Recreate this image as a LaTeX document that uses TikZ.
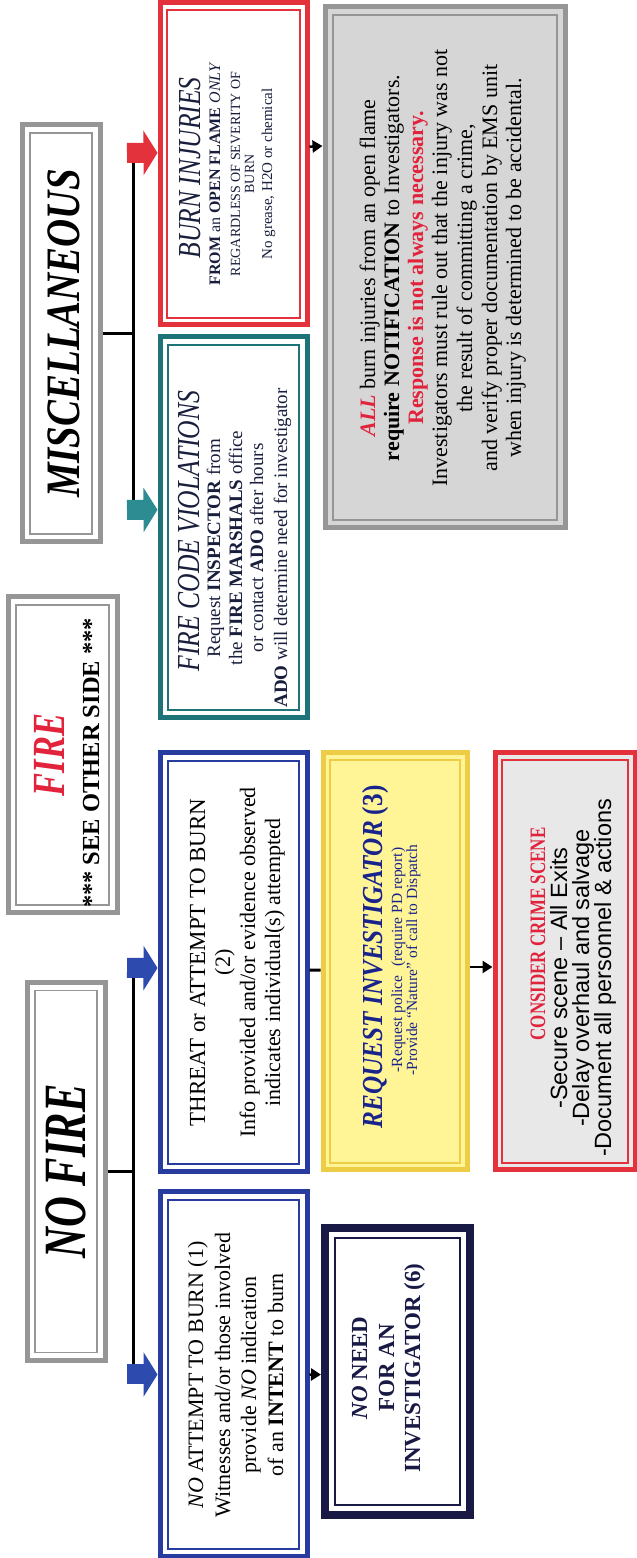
\documentclass[tikz,border=0pt]{standalone}
\usepackage{fontspec}
\setmainfont{Liberation Serif}
\newfontfamily\arialf{Liberation Sans}
\usepackage{graphicx}
\usetikzlibrary{arrows.meta,calc}
\definecolor{bblue}{RGB}{40,60,160}
\definecolor{arblue}{RGB}{45,75,175}
\definecolor{navyb}{RGB}{25,25,70}
\definecolor{navyt}{RGB}{25,35,140}
\definecolor{darkt}{RGB}{25,30,60}
\definecolor{tealb}{RGB}{30,115,120}
\definecolor{artea}{RGB}{45,140,145}
\definecolor{redb}{RGB}{228,50,60}
\definecolor{redt}{RGB}{225,35,60}
\definecolor{yelf}{RGB}{255,245,150}
\definecolor{yelb}{RGB}{238,205,70}
\definecolor{greyb}{RGB}{150,150,150}
\definecolor{greyf}{RGB}{214,214,214}
\definecolor{crimef}{RGB}{232,232,232}
\newcommand\fs[1]{\fontsize{#1}{#1}\selectfont}
\newcommand\sqz[2]{\scalebox{#1}[1]{#2}}
\tikzset{
  outerbox/.style={draw=#1, line width=5pt, inner sep=0pt},
  innerbox/.style={draw=#1, line width=1.5pt, inner sep=0pt},
  lbl/.style={inner sep=0pt, anchor=base},
  ttl/.style={inner sep=0pt, anchor=center},
  bus/.style={line width=3pt, draw=black},
  blockarrow/.style={draw=#1, line width=20pt, -{Triangle[length=14pt,width=44pt]}},
  smallarrow/.style={line width=2.5pt, draw=black, -{Triangle[length=10pt,width=12pt]}},
}
\newcommand\dbox[8]{%
  \node[outerbox=#6, fill=#7, minimum width=#4, minimum height=#5] (#1) at (#2,#3) {};
  \node[innerbox=#6, minimum width=#4-2*#8, minimum height=#5-2*#8] (#1in) at (#2,#3) {};
}
\begin{document}
\begin{tikzpicture}[x=1pt, y=1pt, rotate=90, transform shape]
\fill[white] (0,0) rectangle (1558,-637);
\useasboundingbox (0,0) rectangle (1558,-637);

% title boxes
\dbox{NF}{386.5}{-66}{378}{78}{greyb}{white}{8}
\dbox{FI}{803}{-62.5}{316}{109}{greyb}{white}{8}
\dbox{MI}{1224.5}{-61}{417}{78}{greyb}{white}{8}

% main boxes
\dbox{A}{183.5}{-233.5}{365}{147}{bblue}{white}{8}
\dbox{B}{595.5}{-233.5}{419}{147}{bblue}{white}{8}
\dbox{C}{1030.5}{-233.5}{381}{147}{tealb}{white}{8}
\dbox{D}{1394}{-233.5}{322}{147}{redb}{white}{7}
\node[draw=navyb, line width=8pt, fill=white, inner sep=0pt, minimum width=287, minimum height=145] (E) at (186.5,-397.5) {};
\node[innerbox=navyb, line width=2pt, minimum width=267, minimum height=125] (Ein) at (186.5,-397.5) {};
\dbox{F}{596.5}{-395}{417}{144}{yelb}{yelf}{7}
\dbox{G}{596.5}{-565}{417}{140}{redb}{crimef}{7}
\dbox{H}{1290.5}{-445}{521}{240}{greyb}{greyf}{8}

% NO FIRE connectors
\coordinate (nfL) at (183.5,-133);
\coordinate (nfR) at (590,-133);
\coordinate (nfJ) at (386.5,-133);
\coordinate (nfLa) at (183.5,-127);
\coordinate (nfRa) at (590,-127);
\draw[bus] (NF.south) -- (nfJ);
\draw[bus] (nfL) -- (nfR);
\draw[blockarrow=arblue] (nfLa) -- (A.north);
\draw[blockarrow=arblue] (nfRa) -- ($(B.north west)!0.487!(B.north east)$);

% MISC connectors
\coordinate (miL) at (1048,-133);
\coordinate (miR) at (1405,-133);
\coordinate (miJ) at (1224.5,-133);
\coordinate (miLa) at (1048,-127);
\coordinate (miRa) at (1405,-127);
\draw[bus] (MI.south) -- (miJ);
\draw[bus] (miL) -- (miR);
\draw[blockarrow=artea] (miLa) -- ($(C.north west)!0.546!(C.north east)$);
\draw[blockarrow=redb] (miRa) -- ($(D.north west)!0.534!(D.north east)$);

% small connectors
\draw[smallarrow] (A.south) -- ($(E.north west)!0.4895!(E.north east)$);
\draw[bus] ($(B.south west)!0.482!(B.south east)$) -- ($(F.north west)!0.4796!(F.north east)$);
\draw[smallarrow] ($(F.south west)!0.487!(F.south east)$) -- ($(G.north west)!0.487!(G.north east)$);
\draw[smallarrow] ($(D.south west)!0.553!(D.south east)$) -- ($(H.north west)!0.731!(H.north east)$);

% titles
\node[ttl, font={\fs{60}}] (tNF) at (386.5,-66) {\sqz{0.71}{\bfseries\itshape NO FIRE}};
\node[ttl, font={\fs{46}}, text=redt] (tFI1) at (803,-49) {\sqz{0.75}{\bfseries\itshape FIRE}};
\node[lbl, font={\fs{24.5}\bfseries}] (tFI2) at (795,-99) {*** SEE OTHER SIDE ***};
\node[ttl, font={\fs{48}}] (tMI) at (1224.5,-64) {\sqz{0.81}{\bfseries\itshape MISCELLANEOUS}};

% A
\node[lbl, font={\fs{22}}] (tA1) at (183,-203) {\textit{NO} ATTEMPT TO BURN (1)};
\node[lbl, font={\fs{22}}] (tA2) at (183,-230) {Witnesses and/or those involved};
\node[lbl, font={\fs{22}}] (tA3) at (183,-256) {provide \textit{NO} indication};
\node[lbl, font={\fs{22}}] (tA4) at (183,-283) {of an \textbf{INTENT} to burn};

% B
\node[lbl, font={\fs{23}}] (tB1) at (595.5,-205) {THREAT or ATTEMPT TO BURN};
\node[lbl, font={\fs{22}}] (tB2) at (595.5,-230) {(2)};
\node[lbl, font={\fs{22}}] (tB3) at (595.5,-255) {Info provided and/or evidence observed};
\node[lbl, font={\fs{22}}] (tB4) at (595.5,-280) {indicates individual(s) attempted};

% C
\node[lbl, font={\fs{32}}, text=darkt] (tC1) at (1027,-199) {\sqz{0.8}{\itshape FIRE CODE VIOLATIONS}};
\node[lbl, font={\fs{19}}, text=darkt] (tC2) at (1010,-220) {Request \textbf{INSPECTOR} from};
\node[lbl, font={\fs{19}}, text=darkt] (tC3) at (1010,-242) {the \textbf{FIRE MARSHALS} office};
\node[lbl, font={\fs{19}}, text=darkt] (tC4) at (1010,-263) {or contact \textbf{ADO} after hours};
\node[lbl, font={\fs{19}}, text=darkt] (tC5) at (1010,-287) {\textbf{ADO} will determine need for investigator};

% D
\node[lbl, font={\fs{32}}, text=darkt] (tD1) at (1390,-200) {\sqz{0.8}{\itshape BURN INJURIES}};
\node[lbl, font={\fs{16}}, text=darkt] (tD2) at (1384,-220) {\textbf{FROM} an \textbf{OPEN FLAME} \textit{ONLY}};
\node[lbl, font={\fs{14}}, text=darkt] (tD3) at (1384,-240) {REGARDLESS OF SEVERITY OF};
\node[lbl, font={\fs{14}}, text=darkt] (tD4) at (1384,-254) {BURN};
\node[lbl, font={\fs{15}}, text=darkt] (tD5) at (1384,-272) {No grease, H2O or chemical};

% E
\node[lbl, font={\fs{23}\bfseries}, text=navyb] (tE1) at (190,-367) {\textit{NO} NEED};
\node[lbl, font={\fs{23}\bfseries}, text=navyb] (tE2) at (190,-394) {FOR AN};
\node[lbl, font={\fs{23}\bfseries}, text=navyb] (tE3) at (190,-420) {INVESTIGATOR (6)};

% F
\node[lbl, font={\fs{29}}, text=navyt] (tF1) at (601,-382) {\sqz{0.87}{\textbf{\textit{REQUEST INVESTIGATOR}}\hspace{7pt}\textbf{(3)}}};
\node[lbl, font={\fs{15.5}}, text=navyt] (tF2) at (598,-402) {-Request police\hspace{5pt} (require PD report)};
\node[lbl, font={\fs{15.5}}, text=navyt] (tF3) at (598,-417) {-Provide “Nature” of call to Dispatch};

% G
\node[lbl, font={\fs{22}\bfseries}, text=redt] (tG1) at (624,-545) {\sqz{0.77}{CONSIDER CRIME SCENE}};
\node[lbl, font={\arialf\fs{23.5}}] (tG2) at (580,-567) {-Secure scene – All Exits};
\node[lbl, font={\arialf\fs{23.5}}] (tG3) at (580,-589) {-Delay overhaul and salvage};
\node[lbl, font={\arialf\fs{23.5}}] (tG4) at (580,-611) {-Document all personnel \& actions};

% H
\node[lbl, font={\fs{22}}] (tH1) at (1290,-375) {\textcolor{redt}{\textbf{\textit{ALL}}} burn injuries from an open flame};
\node[lbl, font={\fs{22}}] (tH2) at (1290,-399) {\textbf{require NOTIFICATION} to Investigators.};
\node[lbl, font={\fs{22}}, text=redt] (tH3) at (1290,-423) {\textbf{Response is not always necessary.}};
\node[lbl, font={\fs{22}}] (tH4) at (1290,-447) {Investigators must rule out that the injury was not};
\node[lbl, font={\fs{22}}] (tH5) at (1290,-472) {the result of committing a crime,};
\node[lbl, font={\fs{22}}] (tH6) at (1290,-497) {and verify proper documentation by EMS unit};
\node[lbl, font={\fs{22}}] (tH7) at (1290,-521) {when injury is determined to be accidental.};
\end{tikzpicture}
\end{document}
